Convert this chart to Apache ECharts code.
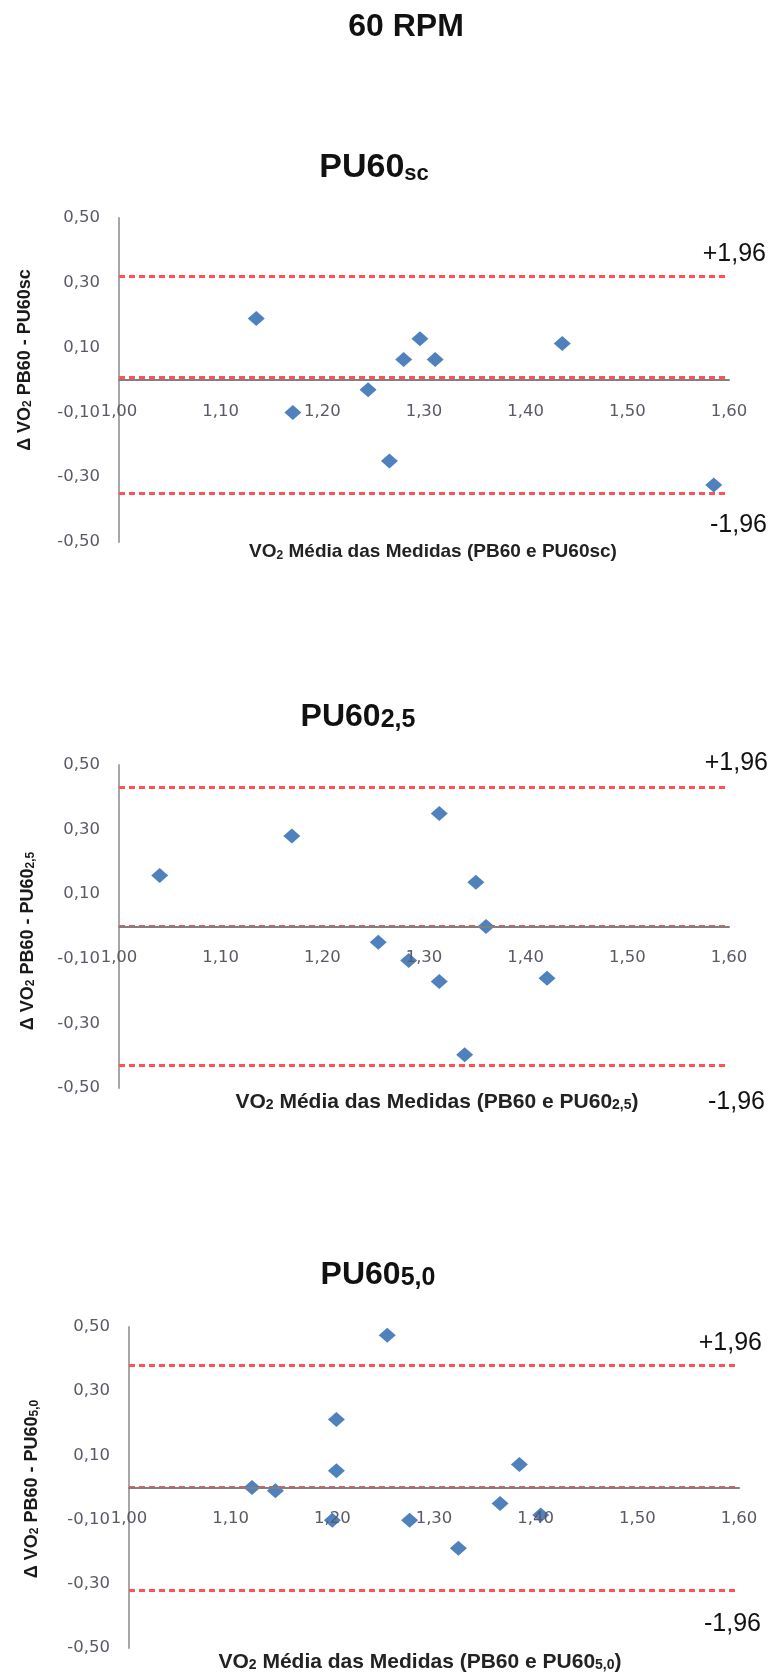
<!DOCTYPE html>
<html>
<head>
<meta charset="utf-8">
<script src="https://cdn.jsdelivr.net/npm/echarts@6/dist/echarts.min.js"></script>
<style>
html,body{margin:0;padding:0;background:#fff;}
#chart{width:771px;height:1675px;}
</style>
</head>
<body>
<div id="chart"></div>
<script>
// ---- Data ----
var xTickLabels = ['1,00','1,10','1,20','1,30','1,40','1,50','1,60'];
var yTickLabels = ['-0,50','-0,30','-0,10','0,10','0,30','0,50'];

// Panel 1: PU60sc
var p1X = [1.135, 1.171, 1.245, 1.266, 1.280, 1.296, 1.311, 1.436, 1.585];
var p1Y = [0.190, -0.100, -0.030, -0.250, 0.063, 0.127, 0.063, 0.113, -0.324];
var p1Limits = [0.319, 0.012, -0.349];

// Panel 2: PU60 2,5
var p2X = [1.040, 1.170, 1.255, 1.285, 1.315, 1.315, 1.340, 1.351, 1.361, 1.421];
var p2Y = [0.158, 0.280, -0.049, -0.105, 0.350, -0.170, -0.397, 0.137, 0.000, -0.160];
var p2Limits = [0.431, 0.002, -0.428];

// Panel 3: PU60 5,0
var p3X = [1.121, 1.144, 1.200, 1.204, 1.204, 1.254, 1.276, 1.324, 1.365, 1.384, 1.405];
var p3Y = [0.000, -0.010, -0.102, 0.052, 0.212, 0.474, -0.102, -0.189, -0.050, 0.072, -0.086];
var p3Limits = [0.382, 0.002, -0.324];

var panelsX = [p1X, p2X, p3X];
var panelsY = [p1Y, p2Y, p3Y];
var panelsLim = [p1Limits, p2Limits, p3Limits];

// ---- Layout ----
var grids = [
  {left:119, top:218, width:610, height:324},
  {left:119, top:765, width:610, height:323},
  {left:129, top:1327, width:610, height:321}
];

var tickFont = 'DejaVu Sans';
var boldFont = 'Liberation Sans';

var xAxes = [], yAxes = [], series = [];
for (var i = 0; i < 3; i++) {
  xAxes.push({
    type:'value', gridIndex:i, min:1, max:1.6, interval:0.1, z:5,
    position:'bottom', offset:-grids[i].height/2,
    axisLine:{show:true, onZero:false, lineStyle:{color:'#808080', width:2}},
    axisTick:{show:false}, splitLine:{show:false},
    axisLabel:{
      show:true, margin:23, fontSize:16.5, fontFamily:tickFont, color:'#5a5a66',
      showMinLabel:true, showMaxLabel:true,
      formatter:function(v){ return xTickLabels[Math.round((v-1)*10)] || ''; }
    }
  });
  yAxes.push({
    type:'value', gridIndex:i, min:-0.5, max:0.5, interval:0.1,
    axisLine:{show:true, onZero:false, lineStyle:{color:'#a6a6a6', width:2}},
    axisTick:{show:false}, splitLine:{show:false},
    axisLabel:{
      show:true, margin:19, fontSize:16.5, fontFamily:tickFont, color:'#5a5a66',
      showMinLabel:true, showMaxLabel:true,
      formatter:function(v){
        var idx = Math.round((v+0.5)*10);
        return (idx % 2 === 0) ? yTickLabels[idx/2] : '';
      }
    }
  });
  var data = panelsX[i].map(function(x, k){ return [x, panelsY[i][k]]; });
  series.push({
    type:'scatter', xAxisIndex:i, yAxisIndex:i, data:data,
    symbol:'diamond', symbolSize:[17,15], z:3,
    itemStyle:{color:'#4f81bd', opacity:1},
    markLine:{
      silent:true, symbol:['none','none'], label:{show:false}, z:2,
      lineStyle:{type:[6,4], color:'#ff5252', width:2.8},
      data: panelsLim[i].map(function(v){ return {yAxis:v}; })
    }
  });
}

function txt(x, y, text, font, size, weight, color, align, rich, rot) {
  var st = {
    text:text, fontFamily:font, fontSize:size, fontWeight:weight,
    fill:color, align:align || 'center', verticalAlign:'middle'
  };
  if (rich) st.rich = rich;
  var el = {type:'text', x:x, y:y, style:st, z:10};
  if (rot) el.rotation = rot;
  return el;
}

function titleRich(big, small) {
  return {
    a:{fontFamily:boldFont, fontWeight:'bold', fontSize:big, fill:'#111', verticalAlign:'bottom', lineHeight:big},
    b:{fontFamily:boldFont, fontWeight:'bold', fontSize:small, fill:'#111', verticalAlign:'bottom', lineHeight:big}
  };
}
function axisRich(n, s, color) {
  return {
    n:{fontFamily:boldFont, fontWeight:'bold', fontSize:n, fill:color, verticalAlign:'bottom', lineHeight:n},
    s:{fontFamily:boldFont, fontWeight:'bold', fontSize:s, fill:color, verticalAlign:'bottom', lineHeight:n}
  };
}

var graphics = [
  txt(406, 27, '60 RPM', boldFont, 32, 'bold', '#111'),
  txt(374, 168, '{a|PU60}{b|sc}', boldFont, 34, 'bold', '#111', 'center', titleRich(34, 22)),
  txt(358, 717, '{a|PU60}{b|2,5}', boldFont, 32, 'bold', '#111', 'center', titleRich(32, 25)),
  txt(378, 1275, '{a|PU60}{b|5,0}', boldFont, 32, 'bold', '#111', 'center', titleRich(32, 25)),

  // x-axis titles
  txt(433, 552, '{n|VO}{s|2}{n| Média das Medidas (PB60 e PU60sc)}', boldFont, 19, 'bold', '#222', 'center', axisRich(19, 12, '#222')),
  txt(437, 1102, '{n|VO}{s|2}{n| Média das Medidas (PB60 e PU60}{s|2,5}{n|)}', boldFont, 21, 'bold', '#222', 'center', axisRich(21, 14, '#222')),
  txt(420, 1662, '{n|VO}{s|2}{n| Média das Medidas (PB60 e PU60}{s|5,0}{n|)}', boldFont, 21, 'bold', '#222', 'center', axisRich(21, 14, '#222')),

  // y-axis titles (rotated)
  txt(25, 360, '{n|Δ VO}{s|2}{n| PB60 - PU60sc}', boldFont, 18, 'bold', '#1a1a1a', 'center', axisRich(18, 12, '#1a1a1a'), Math.PI/2),
  txt(28, 941, '{n|Δ VO}{s|2}{n| PB60 - PU60}{s|2,5}', boldFont, 18, 'bold', '#1a1a1a', 'center', axisRich(18, 12, '#1a1a1a'), Math.PI/2),
  txt(32, 1489, '{n|Δ VO}{s|2}{n| PB60 - PU60}{s|5,0}', boldFont, 18, 'bold', '#1a1a1a', 'center', axisRich(18, 12, '#1a1a1a'), Math.PI/2),

  // ±1,96 labels
  txt(766, 254, '+1,96', boldFont, 25, 'normal', '#111', 'right'),
  txt(767, 525, '-1,96', boldFont, 25, 'normal', '#111', 'right'),
  txt(768, 763, '+1,96', boldFont, 25, 'normal', '#111', 'right'),
  txt(765, 1102, '-1,96', boldFont, 25, 'normal', '#111', 'right'),
  txt(762, 1343, '+1,96', boldFont, 25, 'normal', '#111', 'right'),
  txt(761, 1624, '-1,96', boldFont, 25, 'normal', '#111', 'right')
];

var chart = echarts.init(document.getElementById('chart'), null, {renderer:'canvas'});
chart.setOption({
  animation:false,
  backgroundColor:'#fff',
  grid:grids,
  xAxis:xAxes,
  yAxis:yAxes,
  series:series,
  graphic:graphics
});
</script>
</body>
</html>
